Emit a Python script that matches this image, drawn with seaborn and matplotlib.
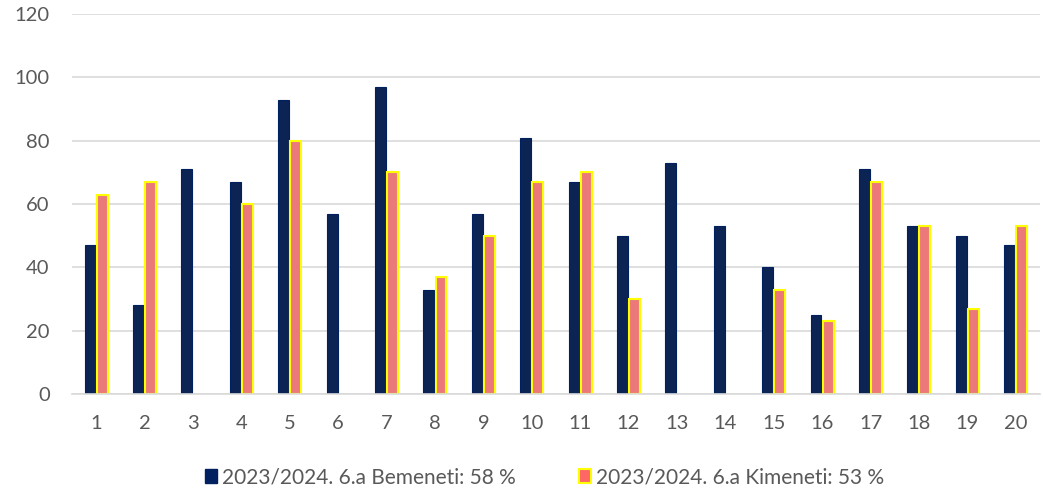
import pandas as pd
import numpy as np
import matplotlib
matplotlib.use('Agg')
import matplotlib.pyplot as plt
import seaborn as sns
from matplotlib.patches import Patch

# chart data
categories = [str(i) for i in range(1, 21)]
bemeneti = [47, 28, 71, 67, 93, 57, 97, 33, 57, 81, 67, 50, 73, 53, 40, 25, 71, 53, 50, 47]
kimeneti = [63, 67, np.nan, 60, 80, np.nan, 70, 37, 50, 67, 70, 30, np.nan, np.nan, 33, 23, 67, 53, 27, 53]
series_names = ['2023/2024. 6.a Bemeneti: 58 %', '2023/2024. 6.a Kimeneti: 53 %']

navy = '#002060'
salmon = '#FF6666'
yellow = '#FFFF00'
text_grey = '#595959'
grid_grey = '#D9D9D9'

df = pd.DataFrame({
    'cat': categories * 2,
    'val': bemeneti + kimeneti,
    'series': [series_names[0]] * 20 + [series_names[1]] * 20,
})

sns.set_style('white')
plt.rcParams['font.family'] = ['Lato', 'DejaVu Sans']

fig = plt.figure(figsize=(10.43, 4.92), dpi=100)
ax = fig.add_axes([0.069, 0.199, 0.928, 0.7725])

sns.barplot(data=df, x='cat', y='val', hue='series', order=categories,
            hue_order=series_names, palette=[navy, salmon], width=0.5, gap=0.1,
            errorbar=None, legend=False, ax=ax)

for p in ax.containers[0]:
    p.set_edgecolor(navy)
    p.set_linewidth(0.8)
for p in ax.containers[1]:
    p.set_edgecolor(yellow)
    p.set_linewidth(1.5)

ax.set_ylim(0, 120)
ax.set_yticks(range(0, 121, 20))
ax.set_xlim(-0.5, 19.5)
ax.yaxis.grid(True, color=grid_grey, linewidth=1.2)
ax.set_axisbelow(True)
for s in ['top', 'right', 'left']:
    ax.spines[s].set_visible(False)
ax.spines['bottom'].set_color(grid_grey)
ax.spines['bottom'].set_linewidth(1.2)
ax.tick_params(axis='both', length=0, labelsize=14.5, colors=text_grey)
ax.tick_params(axis='x', pad=15)
ax.tick_params(axis='y', pad=16)
ax.set_xlabel('')
ax.set_ylabel('')

handles = [Patch(facecolor=navy, edgecolor=navy, label=series_names[0]),
           Patch(facecolor=salmon, edgecolor=yellow, linewidth=1.5, label=series_names[1])]
leg = fig.legend(handles=handles, loc='center', bbox_to_anchor=(0.522, 0.03), ncol=2,
                 frameon=False, fontsize=15, handlelength=0.6, handleheight=0.6,
                 handletextpad=0.25, columnspacing=3.0)
for t in leg.get_texts():
    t.set_color(text_grey)

fig.savefig('out.png', dpi=100)
